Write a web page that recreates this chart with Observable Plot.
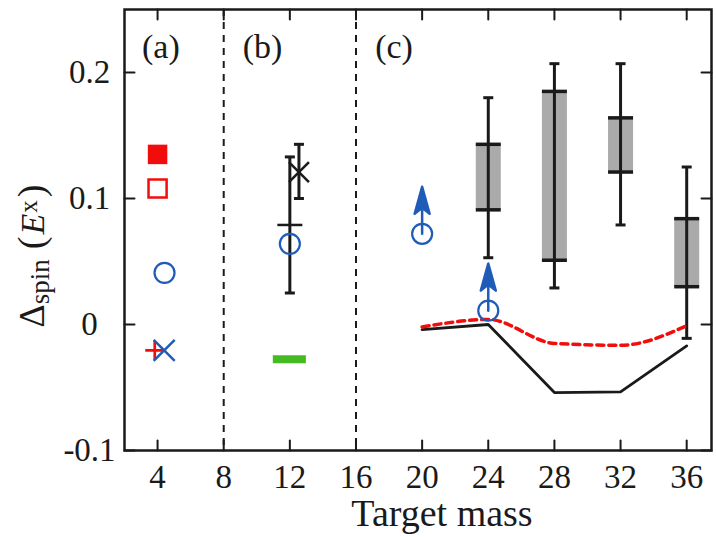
<!DOCTYPE html>
<html><head><meta charset="utf-8">
<script src="https://cdn.jsdelivr.net/npm/d3@7"></script>
<script src="https://cdn.jsdelivr.net/npm/@observablehq/plot@0.6"></script>
<style>body{margin:0;background:#fff;} svg{display:block;}</style>
</head><body><div id="chart"></div>
<script>
// ---- data ----
const xTicks = [4, 8, 12, 16, 20, 24, 28, 32, 36];
const yTicks = [-0.1, 0, 0.1, 0.2];
const yTickLabels = ["-0.1", "0", "0.1", "0.2"];
const panelLabels = ["(a)", "(b)", "(c)"];
const panelLabelMass = [4.2, 10.35, 18.3];
const dividerMass = [8, 16];

// panel (a)
const redFilledSquare = [{mass: 4, value: 0.135}];
const redOpenSquare = [{mass: 4, value: 0.108}];
const redPlus = [{mass: 3.83, value: -0.0205}];
const blueTimes = [{mass: 4.4, value: -0.0205}];
// blue open circles (a), (b), (c)
const blueCircles = [
  {mass: 4.42, value: 0.041},
  {mass: 12, value: 0.064},
  {mass: 20, value: 0.072},
  {mass: 24, value: 0.011}
];
const lowerLimits = [{mass: 20, value: 0.072}, {mass: 24, value: 0.011}];
// panel (b)
const bMeanErr = [{mass: 12, value: 0.079, lo: 0.025, hi: 0.133}];
const bCrossErr = [{mass: 12.55, value: 0.121, lo: 0.100, hi: 0.143}];
const greenBand = [{mass1: 11, mass2: 13, value: -0.0275}];
// panel (c) boxes
const cMass = [24, 28, 32, 36];
const cBoxLo = [0.091, 0.051, 0.121, 0.030];
const cBoxHi = [0.143, 0.185, 0.164, 0.084];
const cWhiskLo = [0.053, 0.029, 0.079, -0.011];
const cWhiskHi = [0.180, 0.207, 0.207, 0.125];
// panel (c) lines
const lineMass = [20, 24, 28, 32, 36];
const solidValues = [-0.004, 0.0, -0.054, -0.0535, -0.017];
const dashedValues = [-0.002, 0.004, -0.015, -0.0165, -0.001];

// ---- tables ----
const cBoxes = cMass.map((m, i) => ({mass: m, boxLo: cBoxLo[i], boxHi: cBoxHi[i], lo: cWhiskLo[i], hi: cWhiskHi[i]}));
const solidLine = lineMass.map((m, i) => ({mass: m, value: solidValues[i]}));
const dashedLine = lineMass.map((m, i) => ({mass: m, value: dashedValues[i]}));
const errBars = [...bMeanErr, ...bCrossErr];

// ---- custom shapes ----
const hline = {draw(ctx, size) { const r = Math.sqrt(size / Math.PI); ctx.moveTo(-r, 0); ctx.lineTo(r, 0); }};
const plusSym = {draw(ctx, size) { const r = Math.sqrt(size / Math.PI); ctx.moveTo(-r, 0); ctx.lineTo(r, 0); ctx.moveTo(0, -r); ctx.lineTo(0, r); }};
const timesSym = {draw(ctx, size) { const r = Math.sqrt(size / Math.PI); ctx.moveTo(-r, -r); ctx.lineTo(r, r); ctx.moveTo(-r, r); ctx.lineTo(r, -r); }};
const tickShape = {draw(ctx, l) { ctx.moveTo(0, 0); ctx.lineTo(0, -l); }};
const arrowShape = {draw(ctx, l) {
  ctx.moveTo(0, 0); ctx.lineTo(0, -l + 18);
  ctx.moveTo(0, -l); ctx.lineTo(-7.5, -l + 27); ctx.lineTo(0, -l + 21); ctx.lineTo(7.5, -l + 27); ctx.closePath();
}};

const RED = "#f20d0d", BLUE = "#1f5cb8", GREEN = "#44bb22", GRAY = "#aaaaaa", INK = "#1a1a1a";

const chart = Plot.plot({
  width: 716, height: 537,
  marginTop: 9, marginBottom: 87, marginLeft: 124, marginRight: 5,
  x: {domain: [2, 37.5], axis: null},
  y: {domain: [-0.1, 0.25], axis: null},
  style: {fontFamily: "'Liberation Serif', serif", background: "#fff", color: INK},
  marks: [
    Plot.ruleX(dividerMass, {x: d => d, stroke: INK, strokeWidth: 2, strokeDasharray: "7,6"}),
    // boxes
    Plot.ruleX(cBoxes, {x: "mass", y1: "boxLo", y2: "boxHi", stroke: GRAY, strokeWidth: 25}),
    Plot.ruleX(cBoxes, {x: "mass", y1: "lo", y2: "hi", stroke: INK, strokeWidth: 3}),
    Plot.dot(cBoxes, {x: "mass", y: "lo", symbol: hline, r: 5, stroke: INK, fill: "none", strokeWidth: 3}),
    Plot.dot(cBoxes, {x: "mass", y: "hi", symbol: hline, r: 5, stroke: INK, fill: "none", strokeWidth: 3}),
    Plot.dot(cBoxes, {x: "mass", y: "boxLo", symbol: hline, r: 12.5, stroke: INK, fill: "none", strokeWidth: 3.5}),
    Plot.dot(cBoxes, {x: "mass", y: "boxHi", symbol: hline, r: 12.5, stroke: INK, fill: "none", strokeWidth: 3.5}),
    // lines
    Plot.line(solidLine, {x: "mass", y: "value", stroke: INK, strokeWidth: 2.8}),
    Plot.line(dashedLine, {x: "mass", y: "value", stroke: RED, strokeWidth: 3.5, strokeDasharray: "7,5", curve: "monotone-x"}),
    // panel (b) error bars
    Plot.ruleX(errBars, {x: "mass", y1: "lo", y2: "hi", stroke: INK, strokeWidth: 3}),
    Plot.dot(errBars, {x: "mass", y: "lo", symbol: hline, r: 5, stroke: INK, fill: "none", strokeWidth: 3}),
    Plot.dot(errBars, {x: "mass", y: "hi", symbol: hline, r: 5, stroke: INK, fill: "none", strokeWidth: 3}),
    Plot.dot(bMeanErr, {x: "mass", y: "value", symbol: hline, r: 12.5, stroke: INK, fill: "none", strokeWidth: 2.5}),
    Plot.dot(bCrossErr, {x: "mass", y: "value", symbol: timesSym, r: 10, stroke: INK, fill: "none", strokeWidth: 2.5}),
    Plot.ruleY(greenBand, {x1: "mass1", x2: "mass2", y: "value", stroke: GREEN, strokeWidth: 8}),
    // lower-limit arrows
    Plot.vector(lowerLimits, {x: "mass", y: "value", length: 47, rotate: 0, anchor: "start", shape: arrowShape, stroke: BLUE, fill: BLUE, strokeWidth: 2.5}),
    // markers
    Plot.dot(redFilledSquare, {x: "mass", y: "value", symbol: "square", r: 11, fill: RED, stroke: "none"}),
    Plot.dot(redOpenSquare, {x: "mass", y: "value", symbol: "square", r: 10.2, fill: "none", stroke: RED, strokeWidth: 2.5}),
    Plot.dot(blueCircles, {x: "mass", y: "value", symbol: "circle", r: 10, fill: "none", stroke: BLUE, strokeWidth: 2.2}),
    Plot.dot(redPlus, {x: "mass", y: "value", symbol: plusSym, r: 9.5, fill: "none", stroke: RED, strokeWidth: 2.7}),
    Plot.dot(blueTimes, {x: "mass", y: "value", symbol: timesSym, r: 10.5, fill: "none", stroke: BLUE, strokeWidth: 2.5}),
    // frame and inward ticks
    Plot.frame({stroke: INK, strokeWidth: 2.5}),
    Plot.vector(xTicks, {x: d => d, frameAnchor: "bottom", length: 10, rotate: 0, anchor: "start", shape: tickShape, stroke: INK, strokeWidth: 2}),
    Plot.vector(xTicks, {x: d => d, frameAnchor: "top", length: 10, rotate: 180, anchor: "start", shape: tickShape, stroke: INK, strokeWidth: 2}),
    Plot.vector(yTicks, {y: d => d, frameAnchor: "left", length: 10, rotate: 90, anchor: "start", shape: tickShape, stroke: INK, strokeWidth: 2}),
    Plot.vector(yTicks, {y: d => d, frameAnchor: "right", length: 10, rotate: 270, anchor: "start", shape: tickShape, stroke: INK, strokeWidth: 2}),
    // tick labels
    Plot.text(xTicks, {x: d => d, text: d => String(d), frameAnchor: "bottom", lineAnchor: "middle", dy: 27, fontSize: 33, fill: INK}),
    Plot.text(yTicks, {y: d => d, text: (d, i) => yTickLabels[i], frameAnchor: "left", lineAnchor: "middle", dx: -35, textAnchor: "middle", fontSize: 33, fill: INK}),
    Plot.text(["Target mass"], {text: d => d, frameAnchor: "bottom", lineAnchor: "middle", dx: 24, dy: 63, fontSize: 38, fill: INK}),
    // panel labels
    Plot.text(panelLabelMass, {x: d => d, text: (d, i) => panelLabels[i], frameAnchor: "top", lineAnchor: "middle", dy: 38, fontSize: 34, fill: INK})
  ]
});
document.getElementById("chart").appendChild(chart);

// rotated y-axis title with sub/superscript parts
const svg = d3.select(chart);
const t = svg.append("text")
  .attr("transform", "translate(44,256) rotate(-90)")
  .attr("text-anchor", "middle")
  .attr("fill", INK)
  .style("font-family", "'Liberation Serif', serif");
t.append("tspan").attr("font-size", 36).text("Δ");
t.append("tspan").attr("font-size", 27).attr("dy", 5).text("spin");
t.append("tspan").attr("font-size", 38).attr("dy", -5).attr("dx", 10).text("(");
t.append("tspan").attr("font-size", 34).attr("font-style", "italic").attr("dx", 2).text("E");
t.append("tspan").attr("font-size", 25).attr("dy", -7).attr("dx", 1).text("x");
t.append("tspan").attr("font-size", 38).attr("dy", 7).attr("dx", 3).text(")");
</script>
</body></html>
